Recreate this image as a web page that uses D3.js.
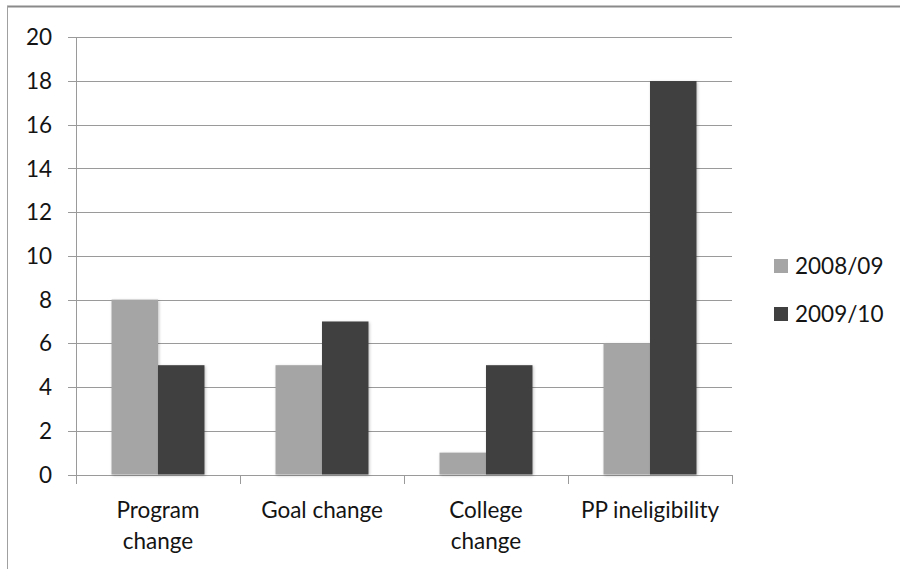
<!DOCTYPE html>
<html><head><meta charset="utf-8">
<script src="https://cdn.jsdelivr.net/npm/d3@7"></script>
<style>body{margin:0;background:#fff}svg{display:block}</style>
</head><body>
<script>
const categories = [["Program","change"],["Goal change"],["College","change"],["PP ineligibility"]];
const seriesNames = ["2008/09","2009/10"];
const values0809 = [8,5,1,6];
const values0910 = [5,7,5,18];
const yTicks = [0,2,4,6,8,10,12,14,16,18,20];
const colors = ["#a5a5a5","#404040"];

(function(){
const W=900,H=569;
const svg=d3.select("body").append("svg").attr("width",W).attr("height",H);
const defs=svg.append("defs");
const f=defs.append("filter").attr("id","sh").attr("x","-20%").attr("y","-20%").attr("width","140%").attr("height","140%");
f.append("feDropShadow").attr("dx",1).attr("dy",1).attr("stdDeviation",1.5).attr("flood-color","#000").attr("flood-opacity",0.25);

svg.append("line").attr("x1",7).attr("x2",W).attr("y1",6.5).attr("y2",6.5).attr("stroke","#8a8a8a").attr("stroke-width",2);
svg.append("line").attr("x1",7.5).attr("x2",7.5).attr("y1",6).attr("y2",H).attr("stroke","#a0a0a0").attr("stroke-width",1);

const pl=76,pr=732,pt=37.3,pb=474.5;
const x=d3.scaleBand().domain(d3.range(categories.length)).range([pl,pr]);
const y=d3.scaleLinear().domain([0,20]).range([pb,pt]);
const inner=d3.scaleBand().domain([0,1]).range([0,x.bandwidth()]).paddingInner(0).paddingOuter(0.764);

const font="Lato, 'Open Sans', sans-serif";
const fs=22.5, tc="#141414";
svg.append("g").selectAll("line").data(yTicks).join("line")
  .attr("x1",68).attr("x2",pr).attr("y1",d=>Math.round(y(d))+0.5).attr("y2",d=>Math.round(y(d))+0.5)
  .attr("stroke","#9a9a9a").attr("stroke-width",1);
svg.append("line").attr("x1",pl+0.5).attr("x2",pl+0.5).attr("y1",Math.round(pt)).attr("y2",Math.round(pb)+0.5).attr("stroke","#9a9a9a");
svg.append("g").selectAll("text").data(yTicks).join("text")
  .attr("x",52).attr("y",d=>y(d)).attr("dy","0.36em").attr("text-anchor","end")
  .attr("font-family",font).attr("font-size",fs).attr("fill",tc).text(d=>d);
const catTicks=d3.range(categories.length+1).map(i=>i<categories.length?x(i):pr);
svg.append("g").selectAll("line").data(catTicks).join("line")
  .attr("x1",d=>Math.round(d)+0.5).attr("x2",d=>Math.round(d)+0.5).attr("y1",Math.round(pb)).attr("y2",Math.round(pb)+9)
  .attr("stroke","#9a9a9a");

const series=[values0809,values0910];
series.forEach((vals,s)=>{
  svg.append("g").attr("filter","url(#sh)").selectAll("rect").data(vals).join("rect")
    .attr("x",(d,i)=>x(i)+inner(s)).attr("width",inner.bandwidth())
    .attr("y",d=>y(d)).attr("height",d=>y(0)-y(d)).attr("fill",colors[s]);
});

const cl=svg.append("g");
categories.forEach((lines,i)=>{
  const t=cl.append("text").attr("x",x(i)+x.bandwidth()/2).attr("text-anchor","middle")
    .attr("font-family",font).attr("font-size",fs).attr("fill",tc);
  lines.forEach((ln,j)=>t.append("tspan").attr("x",x(i)+x.bandwidth()/2).attr("y",518+j*31).text(ln));
});

const lg=svg.append("g");
seriesNames.forEach((n,i)=>{
  lg.append("rect").attr("x",774).attr("y",259+i*48).attr("width",14).attr("height",14).attr("fill",colors[i]);
  lg.append("text").attr("x",795).attr("y",266+i*48).attr("dy","0.36em").attr("font-family",font).attr("font-size",fs).attr("fill",tc).text(n);
});
})();
</script>
</body></html>
